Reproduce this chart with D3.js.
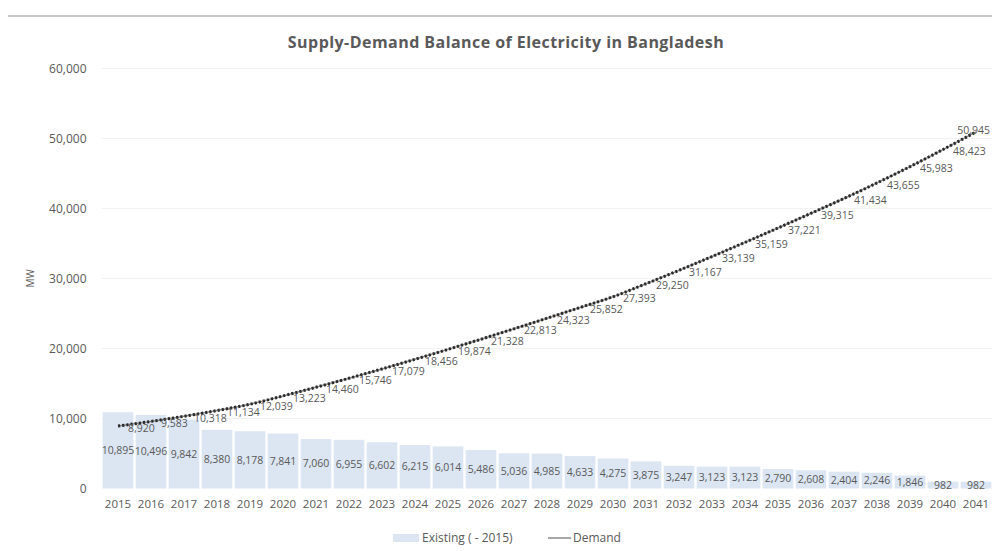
<!DOCTYPE html>
<html>
<head>
<meta charset="utf-8">
<script src="https://cdn.jsdelivr.net/npm/d3@7/dist/d3.min.js"></script>
<style>
  html, body { margin: 0; padding: 0; background: #fff; }
  svg { display: block; }
  text { font-family: "Open Sans", "Noto Sans", sans-serif; fill: #595959; }
</style>
</head>
<body>
<svg id="chart" width="992" height="551"></svg>
<script>
// Years on the category axis
const years = [2015, 2016, 2017, 2018, 2019, 2020, 2021, 2022, 2023, 2024, 2025, 2026, 2027,
  2028, 2029, 2030, 2031, 2032, 2033, 2034, 2035, 2036, 2037, 2038, 2039, 2040, 2041];

// Existing capacity (as of 2015), MW
const existing = [10895, 10496, 9842, 8380, 8178, 7841, 7060, 6955, 6602, 6215, 6014, 5486, 5036,
  4985, 4633, 4275, 3875, 3247, 3123, 3123, 2790, 2608, 2404, 2246, 1846, 982, 982];

// Peak demand forecast, MW
const demand = [8920, 9583, 10318, 11134, 12039, 13223, 14460, 15746, 17079, 18456, 19874, 21328, 22813,
  24323, 25852, 27393, 29250, 31167, 33139, 35159, 37221, 39315, 41434, 43655, 45983, 48423, 50945];

const yTicks = [0, 10000, 20000, 30000, 40000, 50000, 60000];

const W = 992, H = 551;
const margin = { top: 68.5, right: -0.5, bottom: 62.5, left: 101.5 };
const svg = d3.select("#chart");

const x = d3.scaleBand()
  .domain(years)
  .range([margin.left, W - margin.right])
  .paddingInner(0.07)
  .paddingOuter(0.035);

const y = d3.scaleLinear()
  .domain([0, 60000])
  .range([H - margin.bottom, margin.top]);

const fmt = d3.format(",");

// Chart frame top rule
svg.append("line")
  .attr("x1", 8).attr("x2", W).attr("y1", 16).attr("y2", 16)
  .attr("stroke", "#c9c9c9").attr("stroke-width", 2);

// Gridlines
svg.append("g")
  .selectAll("line")
  .data(yTicks.slice(1))
  .join("line")
  .attr("x1", margin.left).attr("x2", W)
  .attr("y1", d => y(d)).attr("y2", d => y(d))
  .attr("stroke", "#f2f2f2").attr("stroke-width", 1);

// Y axis
const yAxis = svg.append("g")
  .attr("transform", `translate(${margin.left - 12},0)`)
  .call(d3.axisLeft(y).tickValues(yTicks).tickFormat(fmt).tickSize(0));
yAxis.select(".domain").remove();
yAxis.selectAll("text").attr("font-size", 12).attr("fill", "#757575").attr("dx", 0);

svg.append("text")
  .attr("transform", `translate(34,${(y(0) + y(60000)) / 2}) rotate(-90)`)
  .attr("text-anchor", "middle")
  .attr("font-size", 10)
  .attr("fill", "#7a7a7a")
  .text("MW");

// X axis
const xAxis = svg.append("g")
  .attr("transform", `translate(0,${y(0) + 8})`)
  .call(d3.axisBottom(x).tickSize(0));
xAxis.select(".domain").remove();
xAxis.selectAll("text").attr("font-size", 11.5).attr("fill", "#595959");

// Existing capacity bars
svg.append("g")
  .selectAll("rect")
  .data(years)
  .join("rect")
  .attr("x", d => x(d))
  .attr("width", x.bandwidth())
  .attr("y", (d, i) => y(existing[i]))
  .attr("height", (d, i) => y(0) - y(existing[i]))
  .attr("fill", "#dce6f3");

// Bar value labels, centred in each bar
svg.append("g")
  .selectAll("text")
  .data(years)
  .join("text")
  .attr("x", d => x(d) + x.bandwidth() / 2)
  .attr("y", (d, i) => (y(existing[i]) + y(0)) / 2)
  .attr("dy", "0.35em")
  .attr("text-anchor", "middle")
  .attr("font-size", 10.5)
  .attr("fill", "#5f5f5f")
  .text((d, i) => fmt(existing[i]));

// Demand line: grey series line with a dark dotted overlay
const cx = d => x(d) + x.bandwidth() / 2;
const line = d3.line()
  .x((d, i) => cx(years[i]))
  .y(d => y(d))
  .curve(d3.curveMonotoneX);

svg.append("path")
  .datum(demand)
  .attr("d", line)
  .attr("fill", "none")
  .attr("stroke", "#8a8a8a")
  .attr("stroke-width", 1.5);

svg.append("path")
  .datum(demand)
  .attr("d", line)
  .attr("fill", "none")
  .attr("stroke", "#2b2b2b")
  .attr("stroke-width", 3)
  .attr("stroke-dasharray", "2.2,2");

// Demand value labels, to the right of each point (last one kept inside the frame)
const last = years.length - 1;
svg.append("g")
  .selectAll("text")
  .data(years)
  .join("text")
  .attr("x", (d, i) => i === last ? W - 2 : cx(d) + 10)
  .attr("y", (d, i) => y(demand[i]) + (i === last ? -2 : 2))
  .attr("dy", "0.35em")
  .attr("text-anchor", (d, i) => i === last ? "end" : "start")
  .attr("font-size", 10.5)
  .attr("fill", "#5f5f5f")
  .text((d, i) => fmt(demand[i]));

// Title
svg.append("text")
  .attr("x", 506)
  .attr("y", 48)
  .attr("text-anchor", "middle")
  .attr("font-size", 16)
  .attr("font-weight", "bold")
  .attr("letter-spacing", 0.45)
  .attr("fill", "#595959")
  .text("Supply-Demand Balance of Electricity in Bangladesh");

// Legend
const lg = svg.append("g").attr("transform", "translate(0,538)");
lg.append("rect").attr("x", 393).attr("y", -4).attr("width", 26).attr("height", 8).attr("fill", "#dce6f3");
lg.append("text").attr("x", 422).attr("dy", "0.35em").attr("font-size", 12).text("Existing ( - 2015)");
lg.append("line").attr("x1", 548).attr("x2", 571).attr("y1", 0).attr("y2", 0)
  .attr("stroke", "#8a8a8a").attr("stroke-width", 1.5);
lg.append("text").attr("x", 573).attr("dy", "0.35em").attr("font-size", 12).text("Demand");
</script>
</body>
</html>
